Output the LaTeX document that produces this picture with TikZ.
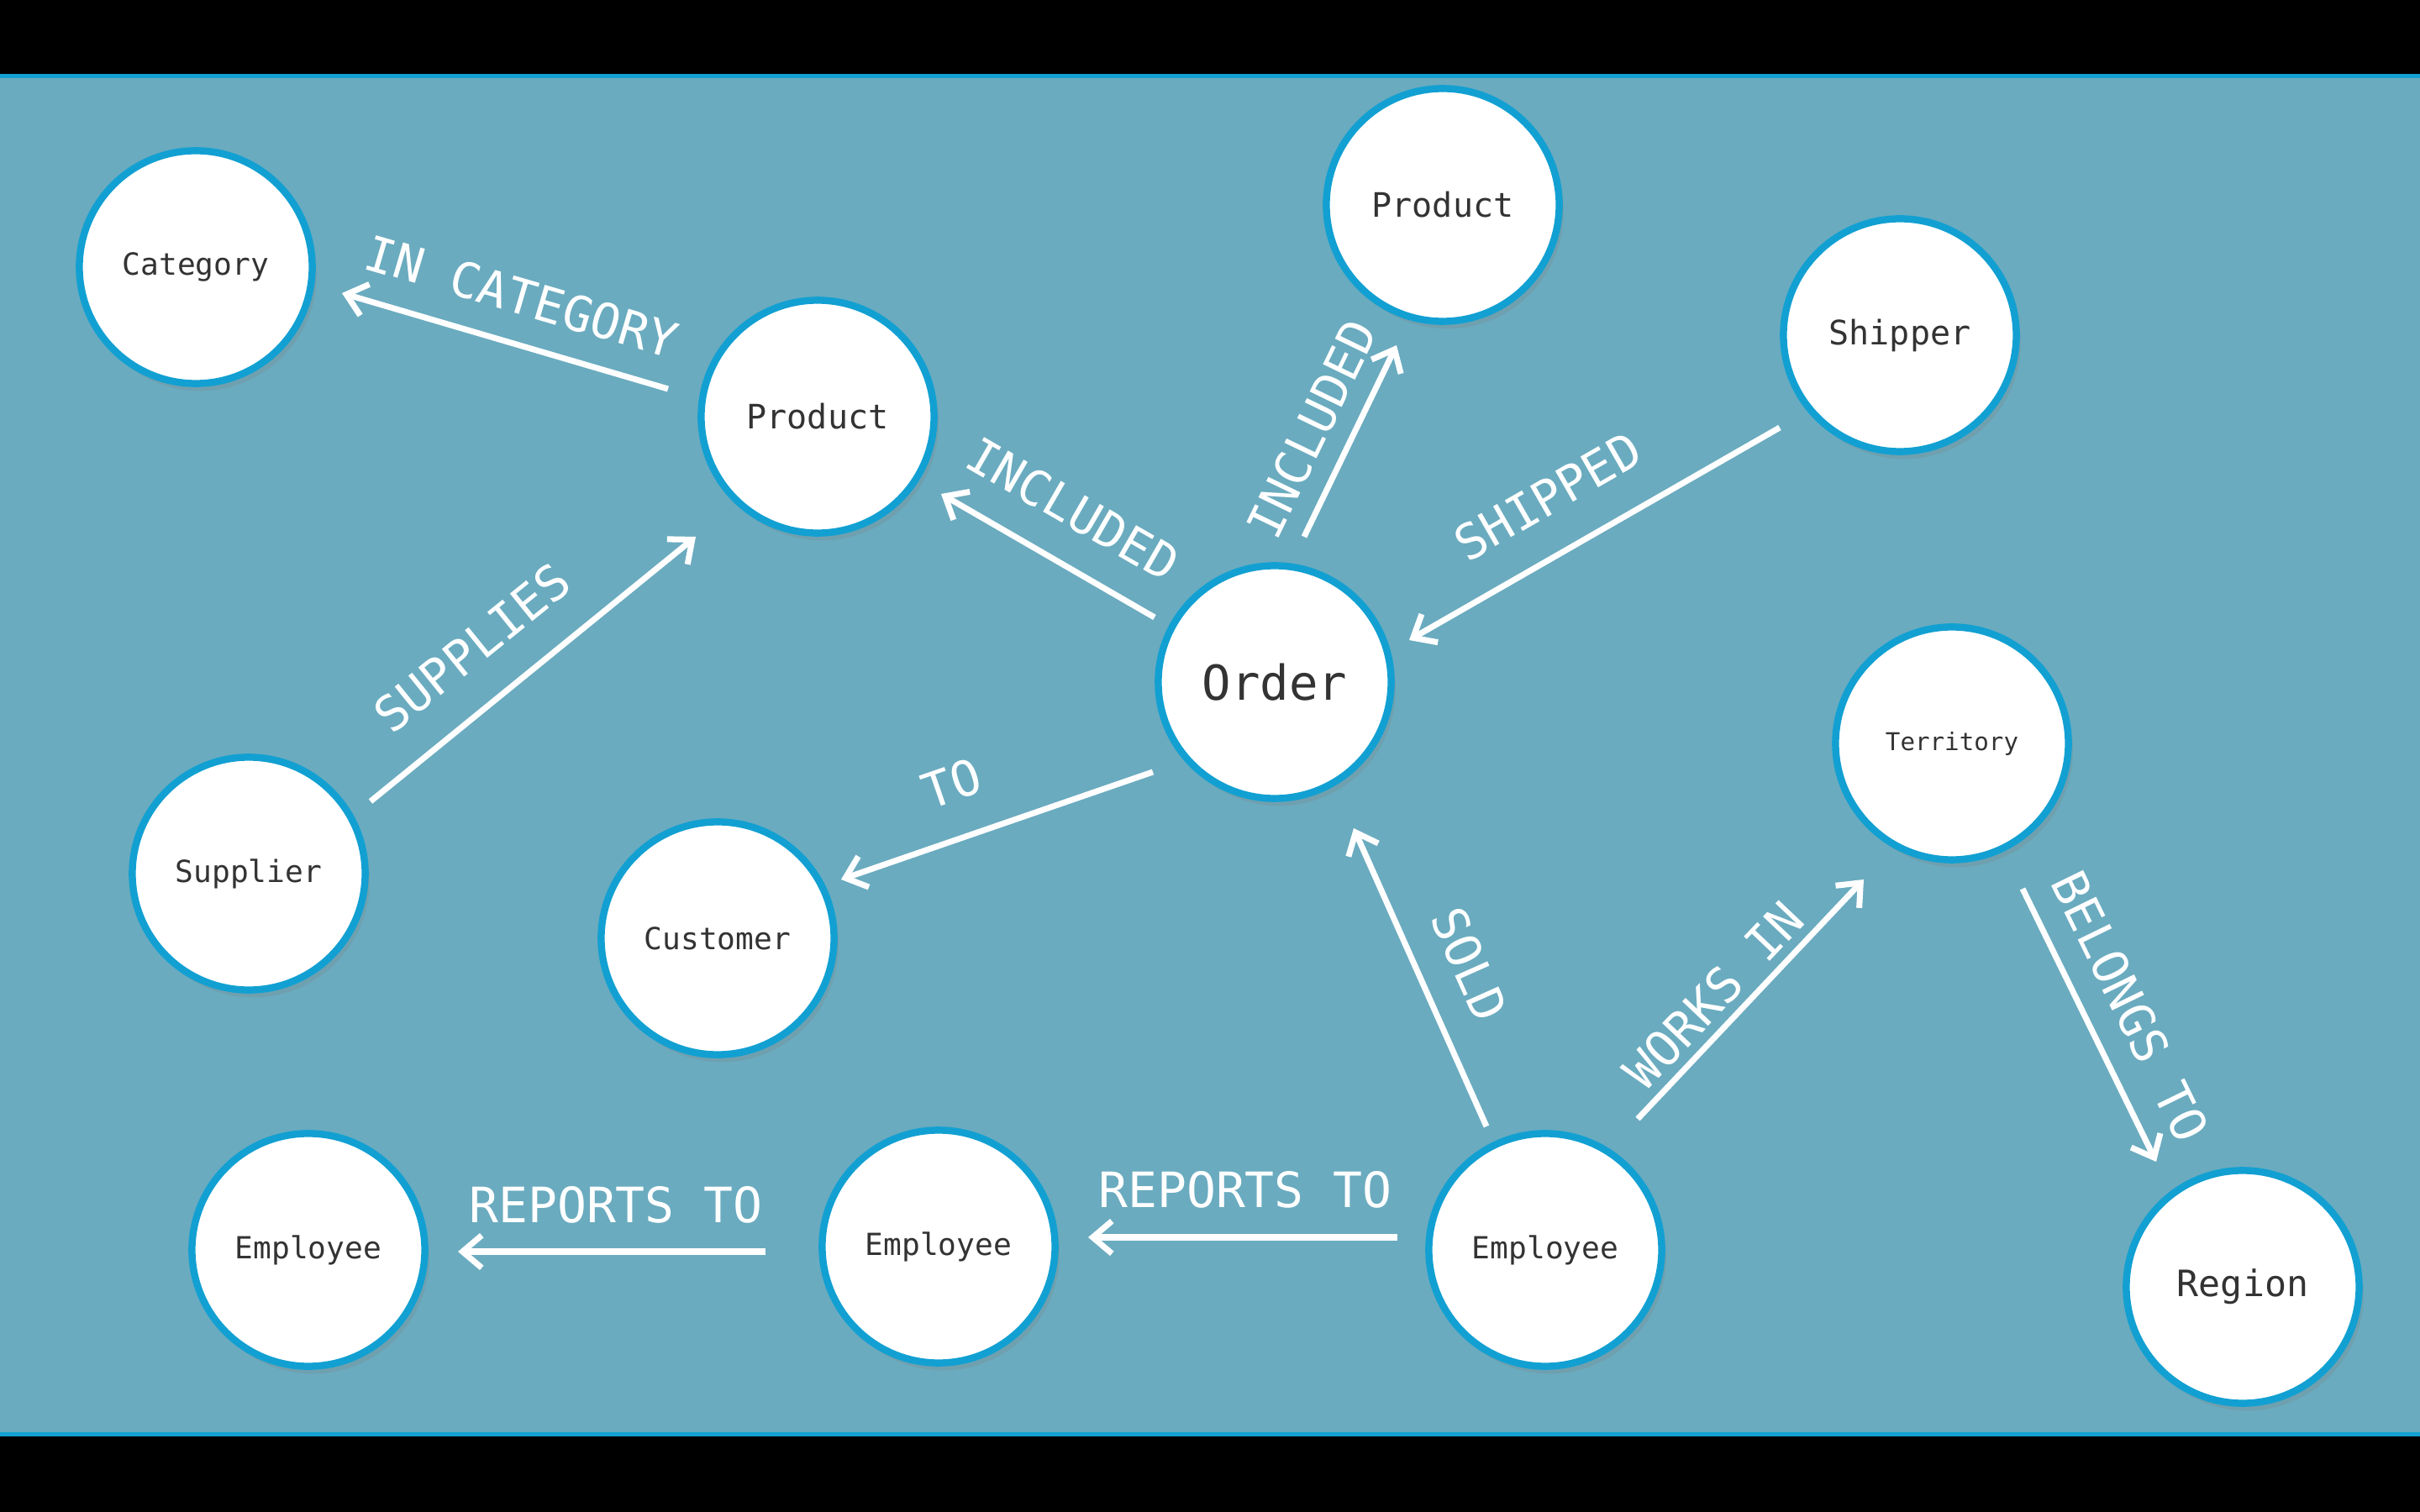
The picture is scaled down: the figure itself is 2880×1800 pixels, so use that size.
\documentclass[tikz,border=0pt]{standalone}
\usepackage{fontspec}
\newfontfamily\mono{DejaVu Sans Mono}
\usetikzlibrary{arrows.meta,calc,shadows}
\definecolor{bgblue}{RGB}{106,171,191}
\definecolor{ringblue}{RGB}{18,160,210}
\definecolor{txtgray}{RGB}{51,51,51}
\begin{document}
\begin{tikzpicture}[x=0.01cm,y=-0.01cm,
  ent/.style={circle, draw=ringblue, line width=2.4pt, fill=white, minimum size=2.77cm, inner sep=0pt, text=txtgray,
    font=\mono\fontsize{10.3}{12}\selectfont,
    drop shadow={shadow xshift=1.5pt, shadow yshift=-2.5pt, opacity=0.25}},
  fs/.style={font=\mono\fontsize{#1}{#1}\selectfont},
  rel/.style={draw=white, line width=2pt, -{Straight Barb[length=6.5pt,width=11pt]}},
  lbl/.style={text=white, font=\mono\fontsize{16.5}{20}\selectfont, inner sep=0pt}]
\useasboundingbox (0,0) rectangle (2880,1800);
\fill[black] (0,0) rectangle (2880,1800);
\fill[ringblue] (0,88) rectangle (2880,1710);
\fill[bgblue] (0,93) rectangle (2880,1705);

\node[ent] (cat) at (233,318) {Category};
\node[ent, fs=11.4] (prod) at (973,496) {Product};
\node[ent, fs=11.4] (prodb) at (1717,244) {Product};
\node[ent, fs=11.4] (ship) at (2261,399) {Shipper};
\node[ent, fs=16.3] (order) at (1517,812) {Order};
\node[ent, fs=8.3] (terr) at (2323,885) {Territory};
\node[ent] (supp) at (296,1040) {Supplier};
\node[ent] (cust) at (854,1117) {Customer};
\node[ent] (empa) at (367,1488) {Employee};
\node[ent] (empb) at (1117,1484) {Employee};
\node[ent] (empc) at (1839,1488) {Employee};
\node[ent, fs=12.3] (reg) at (2669,1532) {Region};

\draw[rel] ($(prod)+(-178,-33)$) -- ($(cat)+(174,31)$);
\draw[rel] ($(supp)+(145,-86)$) -- ($(prod)+(-145,143)$);
\draw[rel] ($(order)+(-143,-77)$) -- ($(prod)+(147,92)$);
\draw[rel] ($(order)+(35,-173)$) -- ($(prodb)+(-55,167)$);
\draw[rel] ($(ship)+(-143,110)$) -- ($(order)+(160,-50)$);
\draw[rel] ($(order)+(-145,107)$) -- ($(cust)+(147,-70)$);
\draw[rel] ($(empc)+(-70,-147)$) -- ($(order)+(94,174)$);
\draw[rel] ($(empc)+(110,-156)$) -- ($(terr)+(-105,162)$);
\draw[rel] ($(terr)+(84,173)$) -- ($(reg)+(-103,-149)$);
\draw[rel] ($(empc)+(-176,-15)$) -- ($(empb)+(178,-11)$);
\draw[rel] ($(empb)+(-206,6)$) -- ($(empa)+(178,2)$);

\node[lbl, rotate=-16.4] (lcat) at (621,353) {IN CATEGORY};
\node[lbl, rotate=38.9] (lsup) at (562,771) {SUPPLIES};
\node[lbl, rotate=-30] (linca) at (1277,606) {INCLUDED};
\node[lbl, rotate=64.2] (lincb) at (1561,511) {INCLUDED};
\node[lbl, rotate=29.9] (lship) at (1842,591) {SHIPPED};
\node[lbl, rotate=19.1] (lto) at (1133,933) {TO};
\node[lbl, rotate=-66] (lsold) at (1749,1148) {SOLD};
\node[lbl, rotate=46.5] (lwork) at (2039,1185) {WORKS IN};
\node[lbl, rotate=-64] (lbel) at (2535,1198) {BELONGS TO};
\node[lbl] (lrepb) at (1482,1416) {REPORTS TO};
\node[lbl] (lrepa) at (733,1434) {REPORTS TO};
\end{tikzpicture}
\end{document}
